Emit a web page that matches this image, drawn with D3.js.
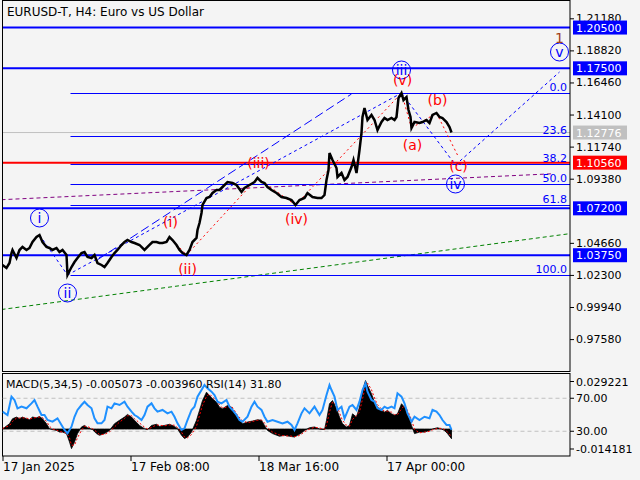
<!DOCTYPE html>
<html><head><meta charset="utf-8">
<script src="https://cdn.jsdelivr.net/npm/d3@7"></script>
<style>body{margin:0;background:#f4f4f4;overflow:hidden} text{font-family:"DejaVu Sans",sans-serif;}</style>
</head><body><svg id="c" width="640" height="480"></svg>
<script>
// ---------------- DATA ----------------
const title = "EURUSD-T, H4:  Euro vs US Dollar";
const priceBars = [0,4,7,9,10,14,17,20,24,27,30,34,37,40,44,47,50,54,57,60,64,65,69,72,75,79,82,85,89,92,95,99,102,105,109,112,115,119,122,125,129,132,137,142,147,150,154,157,160,164,167,170,174,177,180,184,187,190,194,195,197,199,200,204,207,210,214,217,220,225,230,234,239,242,247,252,255,259,262,265,269,274,279,284,289,293,297,302,305,310,315,319,322,324,326,327,330,334,335,339,342,345,349,351,354,357,359,360,362,365,369,372,375,379,382,385,389,392,394,396,399,401,404,406,408,409,412,417,420,424,427,430,434,437,440,444,447,449];
const priceValues = [1.03031,1.02810,1.03178,1.03914,1.04135,1.03546,1.04135,1.04356,1.04135,1.04282,1.04723,1.05091,1.05238,1.04723,1.04356,1.04282,1.04135,1.04282,1.03988,1.04135,1.03767,1.02295,1.02884,1.03252,1.03546,1.03914,1.03988,1.03620,1.03546,1.03767,1.03178,1.03031,1.02884,1.03178,1.03620,1.03914,1.04135,1.04503,1.04723,1.04870,1.04723,1.04650,1.04503,1.04135,1.04503,1.04723,1.04723,1.04650,1.04650,1.04723,1.05091,1.04870,1.04503,1.04135,1.03914,1.03767,1.04135,1.04723,1.05017,1.05606,1.06121,1.06856,1.07445,1.07959,1.08033,1.08327,1.08548,1.08548,1.08769,1.09137,1.09063,1.08916,1.08401,1.08695,1.08916,1.09137,1.09431,1.09137,1.09063,1.08769,1.08548,1.08327,1.08033,1.07959,1.07813,1.07445,1.07813,1.07959,1.08327,1.08033,1.07959,1.07959,1.08180,1.09284,1.10020,1.11270,1.10755,1.10167,1.09505,1.09799,1.09284,1.09505,1.10241,1.10755,1.09799,1.11491,1.12742,1.13919,1.14581,1.13698,1.14066,1.13698,1.12962,1.13551,1.13845,1.13698,1.13845,1.13698,1.13919,1.15317,1.15684,1.15170,1.15390,1.14434,1.13919,1.13110,1.13551,1.13477,1.13551,1.13698,1.13477,1.14066,1.14213,1.13919,1.13845,1.13551,1.13183,1.12776];
const currentPrice = 1.12776;
const blueLevels = [1.2050, 1.1750, 1.0720, 1.0375];
const redLevel = 1.1056;
const priceTicks = [1.21180,1.18820,1.16460,1.14100,1.11740,1.09380,1.04660,1.02300,0.99940,0.97580];
const fibLevels = [0.0, 23.6, 38.2, 50.0, 61.8, 100.0];
// Elliott wave points [bar, price]
const primaryNames = ["i","ii","iii","iv","v"];
const primaryPoints = [[37,1.05238],[65,1.02295],[399,1.15684],[453,1.10388],[557,1.17229]];
const minorNames = ["(i)","(ii)","(iii)","(iv)","(v)","(a)","(b)","(c)"];
const minorPoints = [[167,1.05091],[184,1.03767],[255,1.09431],[293,1.07445],[399,1.15684],[409,1.13110],[434,1.14213],[455,1.11123]];
const channelLine = [[95,1.03421],[349,1.15611]];
const purpleTrend = [[-1,1.07835],[549,1.09740]];
const greenTrend = [[-1,0.99757],[567,1.05333]];
const degreeLabel = "1";
// indicator panel
const macdBars = [0,7,10,14,17,20,24,27,30,34,37,40,44,47,50,54,57,60,64,67,69,72,75,79,82,85,90,94,97,102,107,112,117,122,125,129,132,137,142,145,149,154,157,162,167,172,175,179,182,185,189,194,197,200,204,207,210,214,217,220,225,229,232,235,240,245,250,255,259,262,265,270,277,282,287,292,295,299,302,307,312,317,322,324,327,330,334,337,340,344,347,350,354,357,360,363,365,369,372,375,379,382,385,389,392,395,399,402,405,409,412,417,422,427,430,435,439,442,445,449];
const macdValues = [0.0000,0.0028,0.0054,0.0063,0.0054,0.0063,0.0054,0.0049,0.0063,0.0059,0.0066,0.0054,0.0028,0.0002,-0.0003,-0.0007,-0.0016,-0.0016,-0.0024,-0.0068,-0.0103,-0.0068,-0.0024,0.0011,0.0019,0.0007,-0.0003,-0.0024,-0.0033,-0.0024,-0.0007,0.0028,0.0046,0.0063,0.0077,0.0063,0.0046,0.0019,0.0002,-0.0003,0.0019,0.0025,0.0014,0.0019,0.0025,0.0014,0.0002,-0.0033,-0.0050,-0.0042,-0.0016,0.0046,0.0098,0.0150,0.0194,0.0176,0.0159,0.0141,0.0115,0.0107,0.0124,0.0115,0.0080,0.0063,0.0028,0.0037,0.0042,0.0049,0.0046,0.0019,-0.0007,-0.0024,-0.0038,-0.0033,-0.0038,-0.0042,-0.0033,-0.0021,-0.0007,0.0007,0.0011,0.0000,-0.0003,0.0046,0.0133,0.0150,0.0107,0.0063,0.0028,0.0011,0.0019,0.0080,0.0063,0.0115,0.0202,0.0255,0.0229,0.0185,0.0141,0.0115,0.0098,0.0089,0.0098,0.0080,0.0072,0.0080,0.0133,0.0115,0.0080,0.0019,-0.0024,-0.0016,-0.0016,-0.0007,0.0000,0.0007,0.0000,-0.0007,-0.0024,-0.0051];
const signalValues = [0.0003,0.0018,0.0040,0.0058,0.0058,0.0059,0.0058,0.0052,0.0057,0.0061,0.0063,0.0060,0.0041,0.0015,0.0000,-0.0005,-0.0012,-0.0016,-0.0020,-0.0046,-0.0085,-0.0085,-0.0046,-0.0007,0.0015,0.0013,0.0002,-0.0014,-0.0029,-0.0028,-0.0015,0.0011,0.0037,0.0055,0.0070,0.0070,0.0055,0.0032,0.0010,0.0000,0.0008,0.0022,0.0020,0.0017,0.0022,0.0020,0.0008,-0.0016,-0.0042,-0.0046,-0.0029,0.0015,0.0072,0.0124,0.0172,0.0185,0.0168,0.0150,0.0128,0.0111,0.0116,0.0120,0.0098,0.0072,0.0045,0.0033,0.0040,0.0046,0.0048,0.0032,0.0006,-0.0016,-0.0031,-0.0036,-0.0036,-0.0040,-0.0038,-0.0027,-0.0014,0.0000,0.0009,0.0006,-0.0002,0.0020,0.0090,0.0142,0.0128,0.0085,0.0045,0.0020,0.0015,0.0050,0.0072,0.0090,0.0158,0.0228,0.0242,0.0207,0.0163,0.0128,0.0106,0.0094,0.0094,0.0089,0.0076,0.0076,0.0106,0.0124,0.0098,0.0050,-0.0002,-0.0020,-0.0016,-0.0012,-0.0004,0.0003,0.0004,-0.0003,-0.0015,-0.0040];
const rsiBars = [0,5,9,12,15,19,24,29,32,35,39,42,45,50,55,59,62,65,69,72,75,79,82,85,89,92,95,99,102,105,109,112,117,122,125,129,132,135,139,142,145,149,152,155,160,165,169,172,175,179,182,185,189,192,195,199,202,205,209,212,215,219,224,227,230,234,237,240,245,249,252,255,259,262,265,270,275,280,285,289,292,295,299,302,307,312,317,320,324,327,329,332,335,339,342,347,350,354,357,360,363,365,369,372,375,379,382,385,389,392,395,399,402,405,409,412,417,422,427,430,434,437,440,444,447,449];
const rsiValues = [53.7,49.7,71.9,67.9,57.8,59.8,57.8,63.8,67.9,59.8,49.7,49.7,43.6,41.6,45.7,37.6,31.5,27.5,35.5,47.6,55.8,61.8,65.8,61.8,57.8,45.7,39.6,39.6,43.6,59.8,57.8,63.8,61.8,65.8,59.8,53.7,49.7,47.6,43.6,49.7,59.8,63.8,57.8,53.7,55.8,51.7,53.7,47.6,39.6,31.5,33.5,43.6,55.8,59.8,71.9,80.0,86.1,82.0,78.0,73.9,65.8,63.8,67.9,59.8,55.8,49.7,43.6,41.6,47.6,59.8,65.8,59.8,55.8,47.6,41.6,43.6,41.6,39.6,41.6,37.6,31.5,39.6,51.7,57.8,51.7,59.8,49.7,55.8,73.9,86.1,80.0,71.9,55.8,59.8,45.7,59.8,61.8,55.8,65.8,80.0,88.1,78.0,67.9,65.8,57.8,55.8,59.8,57.8,59.8,57.8,76.0,71.9,63.8,51.7,41.6,47.6,43.6,47.6,45.7,55.8,53.7,49.7,43.6,37.6,37.6,31.8];
const macdMax = 0.029221, macdMin = -0.014181;
const rsiLevels = [70, 30];
const indicatorLabel = "MACD(5,34,5) -0.005073 -0.003960 RSI(14) 31.80";
const timeTickBars = [0,128,256,384];
const timeTickLabels = ["17 Jan 2025","17 Feb 08:00","18 Mar 16:00","17 Apr 00:00"];

// ---------------- DRAW ----------------
const svg = d3.select("#c");
svg.append("rect").attr("width",640).attr("height",480).attr("fill","#f4f4f4");
const L=2.5, R=570, T=0.5, B=371.5, MT=373.5, MB=456;
const x = d3.scaleLinear().domain([0,567.5]).range([L,R]);
const y = d3.scaleLinear().domain([0.95196,1.22416]).range([B,T+1]);
const ym = d3.scaleLinear().domain([macdMin,macdMax]).range([MB,MT]);
const yr = d3.scaleLinear().domain([0,100]).range([MB,MT]);

const defs = svg.append("defs");
defs.append("clipPath").attr("id","mc").append("rect").attr("x",L).attr("y",T).attr("width",R-L).attr("height",B-T);
defs.append("clipPath").attr("id","ic").append("rect").attr("x",L).attr("y",MT).attr("width",R-L).attr("height",MB-MT);
const g = svg.append("g").attr("clip-path","url(#mc)");

function seg(p, q, color, dash, w){
  g.append("line").attr("x1",x(p[0])).attr("y1",y(p[1])).attr("x2",x(q[0])).attr("y2",y(q[1]))
   .attr("stroke",color).attr("stroke-width",w||1).attr("stroke-dasharray",dash||null);
}
seg(greenTrend[0],greenTrend[1],"#008000","4,3");
seg(purpleTrend[0],purpleTrend[1],"#800080","4,3");

g.append("line").attr("x1",L).attr("x2",R).attr("y1",y(currentPrice)).attr("y2",y(currentPrice)).attr("stroke","#c0c0c0");
g.append("line").attr("x1",L).attr("x2",R).attr("y1",y(redLevel)).attr("y2",y(redLevel)).attr("stroke","#ff0000").attr("stroke-width",2);
const fibHi = primaryPoints[2][1], fibLo = primaryPoints[1][1], fibStart = primaryPoints[1][0]+3;
fibLevels.forEach(l=>{
  const p = fibHi-(fibHi-fibLo)*l/100;
  const yy = Math.round(y(p))+0.5 + (l===38.2?1:0);
  g.append("line").attr("x1",x(fibStart)).attr("x2",R).attr("y1",yy).attr("y2",yy).attr("stroke","#0000ff").attr("stroke-width",1);
  g.append("text").attr("x",567).attr("y",yy-3).attr("text-anchor","end").attr("font-size",11).attr("fill","#0000ff").text(l.toFixed(1));
});
blueLevels.forEach(v=>{
  g.append("line").attr("x1",L).attr("x2",R).attr("y1",y(v)).attr("y2",y(v)).attr("stroke","#0000ff").attr("stroke-width",2);
});

seg(channelLine[0],channelLine[1],"#0000ff","9,4");
seg(primaryPoints[0],primaryPoints[1],"#0000ff","3,3");
seg(primaryPoints[1],primaryPoints[2],"#0000ff","3,3");
seg(primaryPoints[2],primaryPoints[3],"#0000ff","3,3");
seg(primaryPoints[3],primaryPoints[4],"#0000ff","3,3");
for(let i=0;i<minorPoints.length-1;i++) seg(minorPoints[i],minorPoints[i+1],"#ff0000","2,3");

const priceData = priceBars.map((b,i)=>[b,priceValues[i]]);
g.append("path").datum(priceData).attr("fill","none").attr("stroke","#000").attr("stroke-width",2.5).attr("stroke-linejoin","miter")
 .attr("d",d3.line().x(d=>x(d[0])).y(d=>y(d[1])));

const primaryOff = [-17,18,-23,19,-20];
primaryPoints.forEach((p,i)=>{
  const cx=x(p[0]), cy=y(p[1])+primaryOff[i];
  g.append("circle").attr("cx",cx).attr("cy",cy).attr("r",9).attr("fill","none").attr("stroke","#0000ff");
  g.append("text").attr("x",cx).attr("y",cy+5).attr("text-anchor","middle").attr("font-size",14).attr("fill","#0000ff").text(primaryNames[i]);
});
svg.append("text").attr("x",x(primaryPoints[4][0])).attr("y",y(primaryPoints[4][1])-29).attr("text-anchor","middle").attr("font-size",14).attr("fill","#a0401a").text(degreeLabel);
const minorOff = [-15,14,-15,14,-13,17,-13,11];
minorPoints.forEach((p,i)=>{
  g.append("text").attr("x",x(p[0])+1).attr("y",y(p[1])+minorOff[i]+5).attr("text-anchor","middle").attr("font-size",14)
   .attr("fill","#ff0000").text(minorNames[i]);
});

svg.append("rect").attr("x",L).attr("y",T).attr("width",R-L).attr("height",B-T).attr("fill","none").attr("stroke","#000");
svg.append("rect").attr("x",L).attr("y",MT).attr("width",R-L).attr("height",MB-MT).attr("fill","none").attr("stroke","#000");

svg.append("text").attr("x",7).attr("y",16).attr("font-size",12).attr("font-family","'Liberation Sans',Arial,sans-serif").attr("fill","#000").text(title);

const ax = svg.append("g").attr("transform",`translate(${R},0)`)
  .call(d3.axisRight(y).tickValues(priceTicks).tickSize(4).tickFormat(d3.format(".5f")));
ax.select(".domain").remove();
ax.selectAll("text").attr("font-size",11).attr("font-family","DejaVu Sans").attr("fill","#000").attr("x",6);
ax.selectAll("line").attr("stroke","#000");

const boxes = blueLevels.map(v=>[v,"#0000ff"]).concat([[redLevel,"#ff0000"],[currentPrice,"#c0c0c0"]]);
boxes.forEach(b=>{
  const yy=y(b[0]);
  svg.append("rect").attr("x",573).attr("y",yy-7).attr("width",54).attr("height",14).attr("fill",b[1]);
  svg.append("text").attr("x",576).attr("y",yy+4).attr("font-size",11).attr("fill","#fff").text(b[0].toFixed(5));
});

const ig = svg.append("g").attr("clip-path","url(#ic)");
rsiLevels.forEach(l=>{
  ig.append("line").attr("x1",L).attr("x2",R).attr("y1",yr(l)).attr("y2",yr(l)).attr("stroke","#c0c0c0").attr("stroke-dasharray","4,3");
});
const macdData = macdBars.map((b,i)=>[b,macdValues[i],signalValues[i]]);
ig.append("path").datum(macdData).attr("fill","#000").attr("stroke","#000").attr("stroke-width",0.8)
 .attr("d",d3.area().x(d=>x(d[0])).y0(ym(0)).y1(d=>ym(d[1])));
ig.append("path").datum(macdData).attr("fill","none").attr("stroke","#ff0000").attr("stroke-width",1).attr("stroke-dasharray","2,2")
 .attr("d",d3.line().x(d=>x(d[0])).y(d=>ym(d[2])));
const rsiData = rsiBars.map((b,i)=>[b,rsiValues[i]]);
ig.append("path").datum(rsiData).attr("fill","none").attr("stroke","#1e90ff").attr("stroke-width",2)
 .attr("d",d3.line().x(d=>x(d[0])).y(d=>yr(d[1])));
svg.append("text").attr("x",6).attr("y",388).attr("font-size",11).attr("fill","#000").text(indicatorLabel);

const indLabels = [[ym(macdMax)+8, macdMax.toFixed(6)],[yr(70), rsiLevels[0].toFixed(2)],[yr(30), rsiLevels[1].toFixed(2)],[ym(macdMin)-7, macdMin.toFixed(6)]];
indLabels.forEach(d=>{
  svg.append("line").attr("x1",R).attr("x2",R+4).attr("y1",d[0]).attr("y2",d[0]).attr("stroke","#000");
  svg.append("text").attr("x",R+6).attr("y",d[0]+4).attr("font-size",11).attr("fill","#000").text(d[1]);
});

const tx = svg.append("g").attr("transform",`translate(0,${MB})`)
  .call(d3.axisBottom(x).tickValues(timeTickBars).tickSize(5).tickFormat((d,i)=>timeTickLabels[i]));
tx.select(".domain").remove();
tx.selectAll("text").attr("font-size",12).attr("font-family","'Liberation Sans',Arial,sans-serif").attr("fill","#000")
  .attr("text-anchor","start").attr("y",15).attr("dy",0);
tx.selectAll("line").attr("stroke","#000");
</script></body></html>
